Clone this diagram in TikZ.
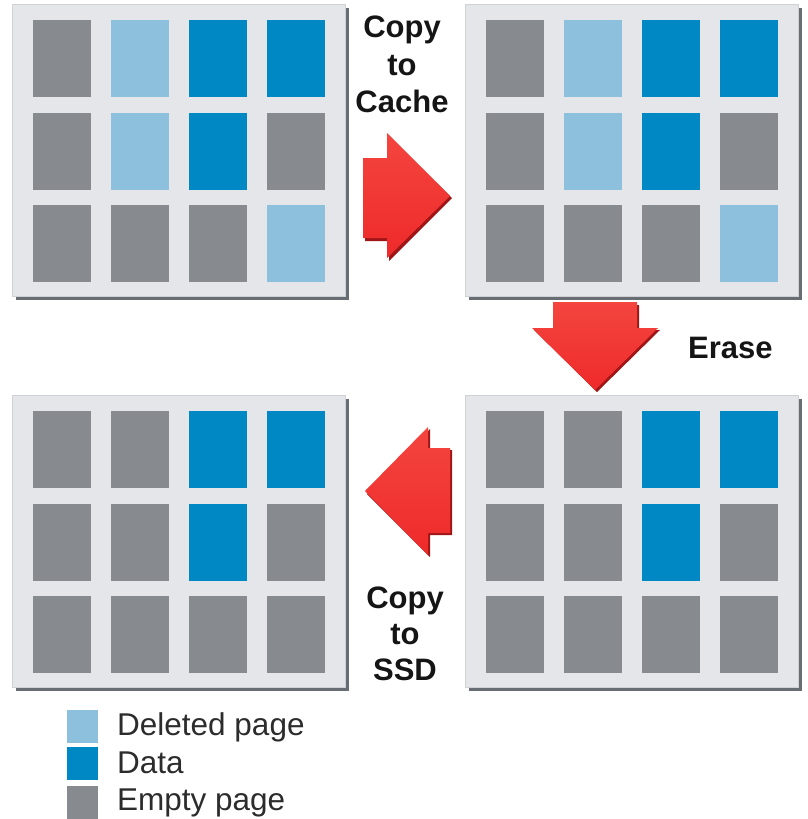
\documentclass[tikz,border=0pt]{standalone}
\usepackage{fontspec}
\setmainfont{Liberation Sans}
\usetikzlibrary{shadows}
\definecolor{cg}{HTML}{878B90}
\definecolor{cl}{HTML}{8CC0DC}
\definecolor{cb}{HTML}{0088C4}
\definecolor{panelbg}{HTML}{E5E6E9}
\definecolor{panelline}{HTML}{CFD1D4}
\definecolor{shadowc}{HTML}{686D74}
\definecolor{arrowred}{HTML}{EE2A2A}
\definecolor{arrowlight}{HTML}{F4453F}
\definecolor{arrowdark}{HTML}{A01616}
\definecolor{textc}{HTML}{151515}
\newcommand\mypanel[4]{%
  \node[panelbox] (#1) at (#2+166.5,#3+146) {};
  \foreach \code [count=\i from 0] in {#4} {
    \pgfmathtruncatemacro\cc{mod(\i,4)}
    \pgfmathtruncatemacro\rr{int(\i/4)}
    \node[cell, fill=c\code] (#1-\i) at (#2+21+78*\cc+28.75, #3+16+92.5*\rr+38.5) {};
  }
}
\begin{document}
\begin{tikzpicture}[x=1pt,y=-1pt,
  panelbox/.style={draw=panelline, line width=0.8pt, fill=panelbg, minimum width=333pt, minimum height=292pt, inner sep=0pt,
     general shadow={fill=shadowc, shadow xshift=3.5pt, shadow yshift=-3.5pt}},
  cell/.style={draw=none, minimum width=57.5pt, minimum height=77pt, inner sep=0pt},
  lbl/.style={font=\bfseries\fontsize{31}{37}\selectfont, text=textc, anchor=base, inner sep=0pt},
  legtxt/.style={font=\fontsize{31.5}{36}\selectfont, text=textc!90, anchor=base west, inner sep=0pt},
  legbox/.style={minimum width=31pt, minimum height=33pt, inner sep=0pt, draw=none},
  bigarrow/.style={top color=arrowlight, bottom color=arrowred, draw=none},
  arrowshade/.style={fill=arrowdark, draw=none}
]
\useasboundingbox (0,0) rectangle (807,819);

% panels
\mypanel{p1}{12}{4}{g,l,b,b,g,l,b,g,g,g,g,l}
\mypanel{p2}{465}{4}{g,l,b,b,g,l,b,g,g,g,g,l}
\mypanel{p3}{465}{395}{g,g,b,b,g,g,b,g,g,g,g,g}
\mypanel{p4}{12}{395}{g,g,b,b,g,g,b,g,g,g,g,g}

% arrow 1: Copy to Cache (right)
\fill[arrowshade] (365,161) -- (389,161) -- (389,136) -- (452,198) -- (389,261) -- (389,241) -- (365,241) -- cycle;
\path[bigarrow] (363,158) -- (387,158) -- (387,133) -- (450,196) -- (387,258) -- (387,238) -- (363,238) -- cycle;

% arrow 2: Erase (down)
\fill[arrowshade] (555,305) -- (639,305) -- (639,330) -- (660,330) -- (597,392) -- (534,330) -- (555,330) -- cycle;
\path[bigarrow] (553,302) -- (637,302) -- (637,328) -- (658,328) -- (595,390) -- (532,328) -- (553,328) -- cycle;

% arrow 3: Copy to SSD (left)
\fill[arrowshade] (452,450) -- (430,450) -- (430,429) -- (367,494) -- (430,557) -- (430,535) -- (452,535) -- cycle;
\path[bigarrow] (450,448) -- (428,448) -- (428,427) -- (365,491) -- (428,555) -- (428,533) -- (450,533) -- cycle;

% labels
\node[lbl] (c1) at (402,37) {Copy};
\node[lbl] (c2) at (402,75) {to};
\node[lbl] (c3) at (402,112) {Cache};
\node[lbl, anchor=base west] (er) at (688,358) {Erase};
\node[lbl] (s1) at (405,608) {Copy};
\node[lbl] (s2) at (405,644) {to};
\node[lbl] (s3) at (405,680) {SSD};

% legend
\node[legbox, fill=cl] (k1) at (82.5,726.5) {};
\node[legbox, fill=cb] (k2) at (82.5,763.5) {};
\node[legbox, fill=cg] (k3) at (82.5,802) {};
\node[legtxt] (t1) at (117,735) {Deleted page};
\node[legtxt] (t2) at (117,773) {Data};
\node[legtxt] (t3) at (117,810) {Empty page};
\end{tikzpicture}
\end{document}
